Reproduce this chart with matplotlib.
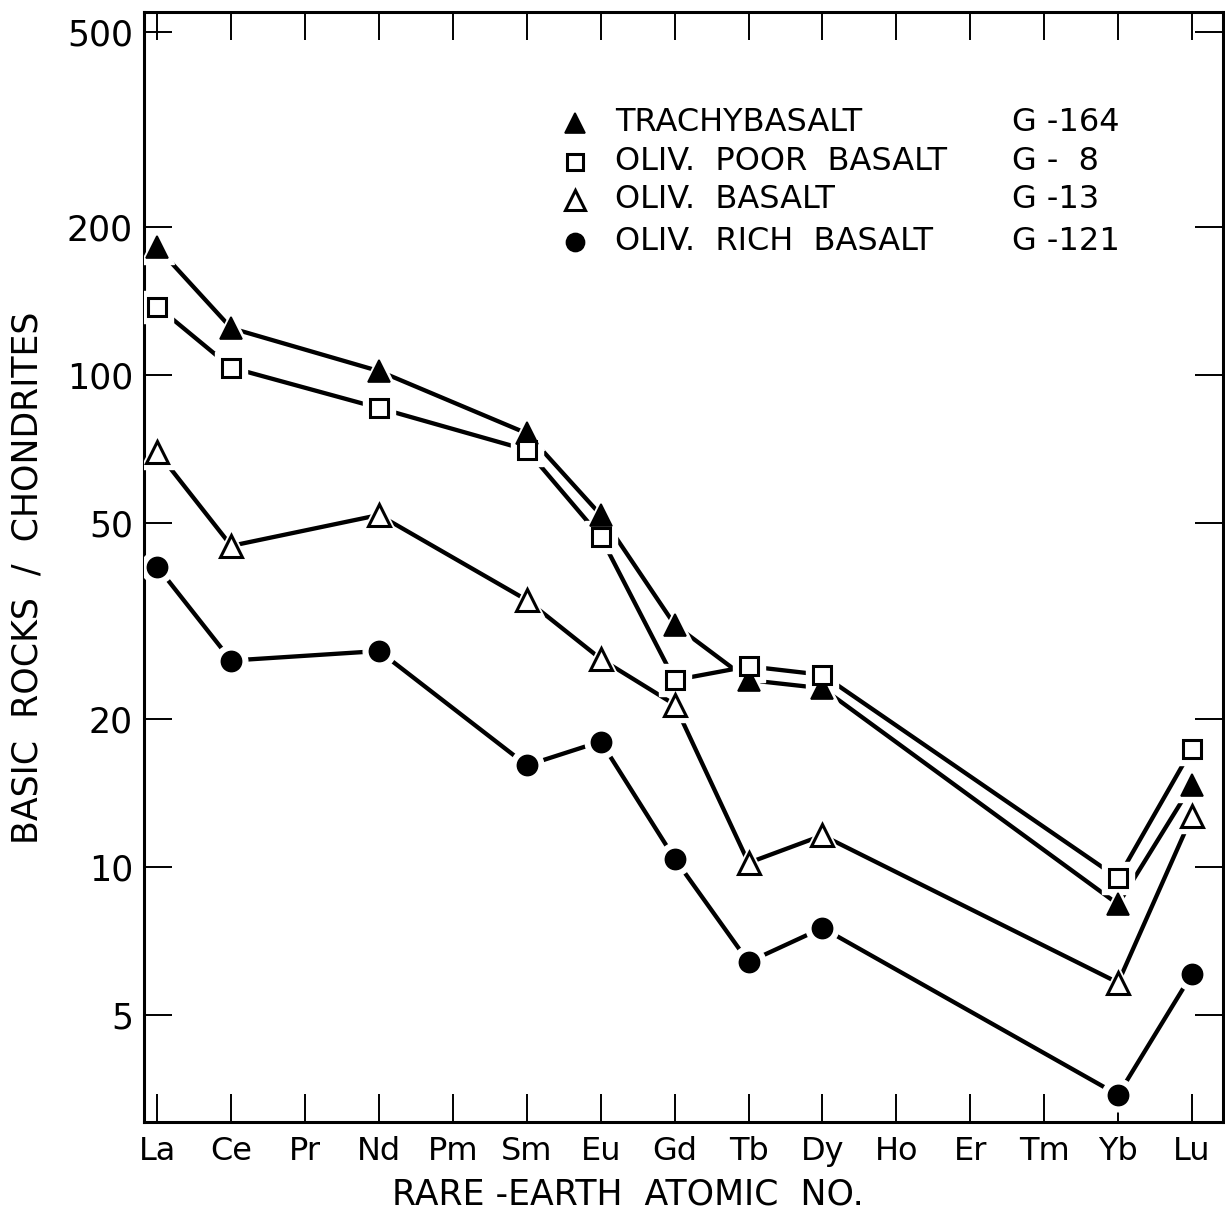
import matplotlib
matplotlib.use("Agg")
import matplotlib.pyplot as plt

# elementos de tierras raras, La..Lu
elementos = ['La', 'Ce', 'Pr', 'Nd', 'Pm', 'Sm', 'Eu', 'Gd', 'Tb', 'Dy',
             'Ho', 'Er', 'Tm', 'Yb', 'Lu']

# solo se analizaron estos (sin Pr, Pm, Ho, Er, Tm)
analizados = ['La', 'Ce', 'Nd', 'Sm', 'Eu', 'Gd', 'Tb', 'Dy', 'Yb', 'Lu']

# roca / condrito
traquibasalto = [182, 124.7, 102, 76.2, 52.0, 31.1, 24.0, 23.1, 8.4, 14.7]
olivino_pobre = [138, 103.7, 85.8, 70.5, 46.9, 24.0, 25.6, 24.6, 9.5, 17.4]
olivino_basalto = [69.9, 45.0, 52.0, 34.9, 26.5, 21.4, 10.2, 11.6, 5.82, 12.7]
olivino_rico = [40.8, 26.3, 27.5, 16.1, 18.0, 10.4, 6.41, 7.52, 3.44, 6.06]

nombres = ['TRACHYBASALT', 'OLIV.  POOR  BASALT', 'OLIV.  BASALT', 'OLIV.  RICH  BASALT']
muestras = ['G -164', 'G -  8', 'G -13', 'G -121']

y_ticks = [5, 10, 20, 50, 100, 200, 500]

series = [
    (traquibasalto, dict(marker='^', ms=16, mfc='black', mec='black', mew=1.2)),
    (olivino_pobre, dict(marker='s', ms=13.5, mfc='white', mec='black', mew=2.2)),
    (olivino_basalto, dict(marker='^', ms=16, mfc='white', mec='black', mew=2.2)),
    (olivino_rico, dict(marker='o', ms=14.5, mfc='black', mec='black', mew=1.2)),
]

fig = plt.figure(figsize=(12.25, 12.15), dpi=100)
ax = fig.add_axes([0.1176, 0.0768, 0.8808, 0.9136])

x = [elementos.index(e) for e in analizados]

for valores, estilo in series:
    ax.plot(x, valores, color='black', lw=3.1, solid_capstyle='butt', zorder=2)
    # halo blanco para que la linea no toque el simbolo
    ax.plot(x, valores, ls='none', marker=estilo['marker'], ms=estilo['ms'] + 9,
            mfc='white', mec='white', zorder=3)
for valores, estilo in series:
    ax.plot(x, valores, ls='none', zorder=4, **estilo)

ax.set_yscale('log')
ax.set_ylim(3.035, 549)
ax.set_xlim(-0.18, 14.42)

ax.set_xticks(range(len(elementos)))
ax.set_xticklabels(elementos)
ax.set_yticks(y_ticks)
ax.set_yticklabels([str(v) for v in y_ticks])
ax.minorticks_off()

ax.tick_params(direction='in', length=20, width=1.4, top=True, right=True,
               labelsize=25, pad=8)
ax.tick_params(axis='x', labelsize=23, pad=10)
for s in ax.spines.values():
    s.set_linewidth(2.2)

ax.set_ylabel('BASIC  ROCKS  /  CHONDRITES', fontsize=25)
ax.yaxis.set_label_coords(-0.1084, 0.4898)
ax.yaxis.label.set_verticalalignment('center')
ax.set_xlabel('RARE -EARTH  ATOMIC  NO.', fontsize=25)
ax.xaxis.set_label_coords(0.4486, -0.066)
ax.xaxis.label.set_verticalalignment('center')

# leyenda dibujada a mano
filas_y = [0.8997, 0.8646, 0.8304, 0.7925]
for (valores, estilo), nombre, muestra, fy in zip(series, nombres, muestras, filas_y):
    e = dict(estilo)
    e['ms'] = e['ms'] - 1.5
    ax.plot([0.3994], [fy], transform=ax.transAxes, ls='none', clip_on=False, **e)
    ax.text(0.4365, fy, nombre, transform=ax.transAxes, fontsize=23, va='center')
    ax.text(0.8044, fy, muestra, transform=ax.transAxes, fontsize=23, va='center')

fig.savefig('out.png', dpi=100)
plt.close(fig)
